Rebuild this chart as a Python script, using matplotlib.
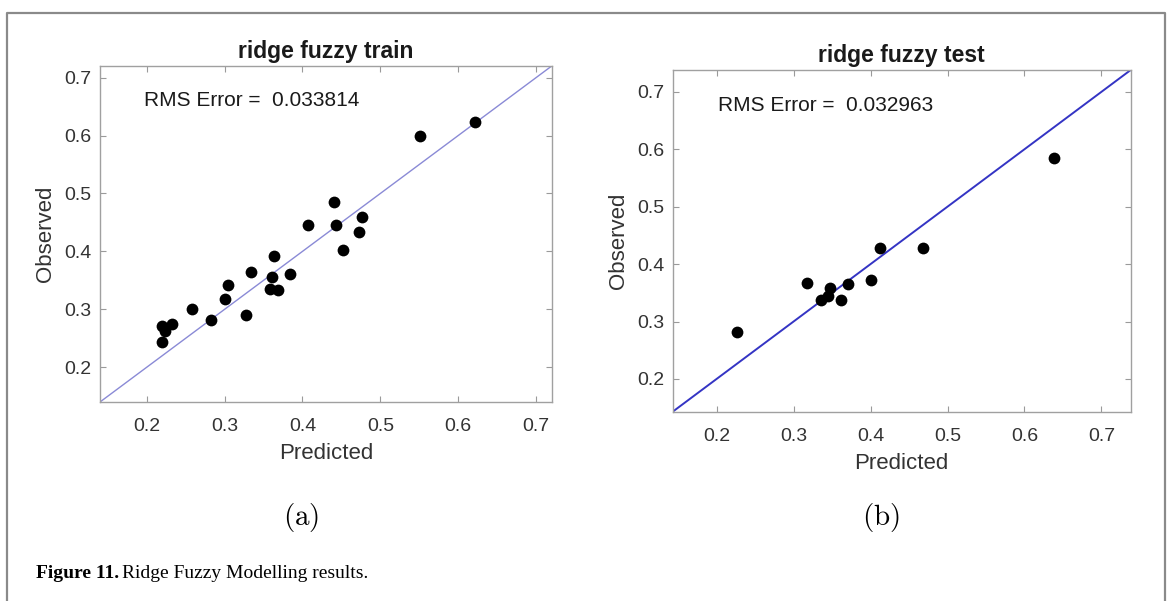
import numpy as np
import matplotlib
matplotlib.use("Agg")
import matplotlib.pyplot as plt
from matplotlib.lines import Line2D

plt.rcParams['font.family'] = ['Liberation Sans', 'DejaVu Sans']
plt.rcParams['mathtext.fontset'] = 'cm'

# ridge fuzzy train (predicted, observed)
train_pred = [0.219, 0.220, 0.224, 0.232, 0.258, 0.282, 0.300, 0.304, 0.327, 0.334,
              0.358, 0.361, 0.363, 0.369, 0.384, 0.407, 0.440, 0.443, 0.452, 0.472,
              0.477, 0.551, 0.622]
train_obs = [0.243, 0.272, 0.263, 0.275, 0.301, 0.282, 0.318, 0.342, 0.291, 0.364,
             0.335, 0.355, 0.392, 0.333, 0.361, 0.446, 0.486, 0.446, 0.402, 0.433,
             0.460, 0.599, 0.624]

# ridge fuzzy test (predicted, observed)
test_pred = [0.226, 0.317, 0.336, 0.345, 0.348, 0.362, 0.371, 0.400, 0.412, 0.468, 0.639]
test_obs = [0.282, 0.367, 0.337, 0.345, 0.358, 0.337, 0.365, 0.373, 0.428, 0.428, 0.584]

titles = ["ridge fuzzy train", "ridge fuzzy test"]
rms_errors = ["0.033814", "0.032963"]
ticks = [0.2, 0.3, 0.4, 0.5, 0.6, 0.7]

W, H = 1172, 601
fig = plt.figure(figsize=(W / 100, H / 100), dpi=100)

def px_rect(x0, y0, x1, y1):
    # pixel box (top-left origin) -> figure fraction rect
    return [x0 / W, 1 - y1 / H, (x1 - x0) / W, (y1 - y0) / H]

ax1 = fig.add_axes(px_rect(100, 66, 551.7, 402))
ax2 = fig.add_axes(px_rect(672.7, 70, 1130.7, 411.7))

setups = [
    (ax1, train_pred, train_obs, (0.14, 0.72), '#8a8ad6', 1.0, (0.1966, 0.661)),
    (ax2, test_pred, test_obs, (0.143, 0.738), '#3434c4', 1.4, (0.202, 0.677)),
]

for i, (ax, xp, yo, lim, lc, lw, txt) in enumerate(setups):
    ax.plot(lim, lim, color=lc, lw=lw, zorder=1)
    ax.scatter(xp, yo, s=72, color='black', zorder=2, linewidths=0)
    ax.set_xlim(lim)
    ax.set_ylim(lim)
    ax.set_xticks(ticks)
    ax.set_yticks(ticks)
    ax.tick_params(direction='in', top=True, right=True, length=4, width=0.8,
                   color='#9a9a9a', labelsize=14, labelcolor='#333333')
    ax.tick_params(axis='x', pad=11.5)
    ax.tick_params(axis='y', pad=6)
    for sp in ax.spines.values():
        sp.set_color('#a0a0a0')
        sp.set_linewidth(1.0)
    ax.set_title(titles[i], fontsize=16.5, fontweight='bold', color='#1a1a1a', pad=6)
    ax.set_xlabel("Predicted", fontsize=16, color='#333333', labelpad=6)
    ax.set_ylabel("Observed", fontsize=16, color='#333333', labelpad=6)
    ax.text(txt[0], txt[1], "RMS Error =  " + rms_errors[i], fontsize=15,
            color='#1a1a1a', ha='left', va='center')

# sub-figure letters
fig.text(301 / W, 1 - 518 / H, r'$\mathrm{(a)}$', fontsize=21, ha='center', va='center')
fig.text(881 / W, 1 - 518 / H, r'$\mathrm{(b)}$', fontsize=21, ha='center', va='center')

# caption: bold label, then the plain text right after it
cap_y = 1 - 573 / H
bold = fig.text(36 / W, cap_y, "Figure 11.", fontsize=14, fontweight='bold',
                family='Liberation Serif', ha='left', va='center')
renderer = fig.canvas.get_renderer()
bb = bold.get_window_extent(renderer=renderer)
fig.text((bb.x1 + 3) / W, cap_y, "Ridge Fuzzy Modelling results.", fontsize=14,
         family='Liberation Serif', ha='left', va='center')

# outer frame (open at the bottom)
fx = [7 / W, 7 / W, 1165 / W, 1165 / W]
fy = [0, 1 - 13 / H, 1 - 13 / H, 0]
fig.add_artist(Line2D(fx, fy, transform=fig.transFigure, color='#8a8a8a', lw=1.6))

fig.savefig("out.png", dpi=100)
